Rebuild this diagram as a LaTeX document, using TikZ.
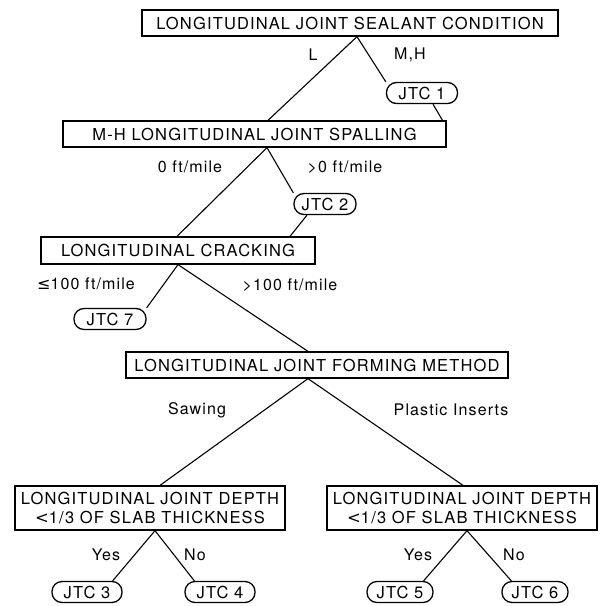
\documentclass[tikz,border=0pt]{standalone}
\usepackage{fontspec}
\setmainfont{TeX Gyre Heros}[LetterSpace=7]
\newfontfamily\symfont{DejaVu Sans}
\begin{document}
\begin{tikzpicture}[x=1pt,y=-1pt,
  box/.style={draw,line width=1.3pt,inner sep=0pt,font=\fontsize{16.5}{18.5}\selectfont,align=center},
  jtc/.style={draw,line width=1.3pt,rounded corners=10pt,minimum height=21pt,inner sep=0pt,font=\fontsize{16.5}{18}\selectfont},
  lab/.style={inner sep=0pt,font=\fontsize{16}{18}\selectfont},
  conn/.style={line width=1.1pt}]
\useasboundingbox (0,0) rectangle (604,606);
% boxes
\node[box,minimum width=416pt,minimum height=26pt] (b1) at (350,23) {LONGITUDINAL JOINT SEALANT CONDITION};
\node[box,minimum width=383pt,minimum height=26pt] (b2) at (254.5,134) {M-H LONGITUDINAL JOINT SPALLING};
\node[box,minimum width=274pt,minimum height=27pt] (b3) at (178,250.5) {LONGITUDINAL CRACKING};
\node[box,minimum width=382pt,minimum height=26pt] (b4) at (317,365) {LONGITUDINAL JOINT FORMING METHOD};
\node[box,minimum width=270pt,minimum height=44pt] (b5) at (150,508) {LONGITUDINAL JOINT DEPTH\\{\symfont<}1/3 OF SLAB THICKNESS};
\node[box,minimum width=270pt,minimum height=44pt] (b6) at (462,508) {LONGITUDINAL JOINT DEPTH\\{\symfont<}1/3 OF SLAB THICKNESS};
% terminal nodes
\node[jtc,minimum width=71pt] (j1) at (422,93) {JTC 1};
\node[jtc,minimum width=62pt] (j2) at (325,204) {JTC 2};
\node[jtc,minimum width=72pt] (j7) at (110,319) {JTC 7};
\node[jtc,minimum width=70pt] (j3) at (87,592) {JTC 3};
\node[jtc,minimum width=70pt] (j4) at (220,592) {JTC 4};
\node[jtc,minimum width=66pt] (j5) at (400,592) {JTC 5};
\node[jtc,minimum width=66pt] (j6) at (535,592) {JTC 6};
% connectors
\draw[conn] ([xshift=7pt]b1.south) -- ([xshift=13.5pt]b2.north);
\draw[conn] ([xshift=7pt]b1.south) -- (j1.north west);
\draw[conn] ([xshift=11pt]j1.south) -- ([xshift=188pt]b2.north);
\draw[conn] ([xshift=12.5pt]b2.south) -- ([xshift=-1pt]b3.north);
\draw[conn] ([xshift=12.5pt]b2.south) -- (j2.north west);
\draw[conn] ([xshift=-18pt]j2.south) -- ([xshift=112pt]b3.north);
\draw[conn] (b3.south) -- (j7.north east);
\draw[conn] (b3.south) -- ([xshift=-9pt]b4.north);
\draw[conn] ([xshift=-9pt]b4.south) -- ([xshift=10pt]b5.north);
\draw[conn] ([xshift=-9pt]b4.south) -- ([xshift=1pt]b6.north);
\draw[conn] ([xshift=5pt]b5.south) -- ([xshift=-10pt]j3.north east);
\draw[conn] ([xshift=5pt]b5.south) -- ([xshift=10pt]j4.north west);
\draw[conn] ([xshift=5pt]b6.south) -- ([xshift=-10pt]j5.north east);
\draw[conn] ([xshift=5pt]b6.south) -- ([xshift=10pt]j6.north west);
% labels
\node[lab] (l1) at (313,55) {L};
\node[lab] (l2) at (410,55) {M,H};
\node[lab] (l3) at (190,167) {0 ft/mile};
\node[lab] (l4) at (345,167) {>0 ft/mile};
\node[lab] (l5) at (86,284) {{\symfont≤}100 ft/mile};
\node[lab] (l6) at (290,285) {>100 ft/mile};
\node[lab] (l7) at (197,410) {Sawing};
\node[lab] (l8) at (451,410) {Plastic Inserts};
\node[lab] (l9) at (106,555) {Yes};
\node[lab] (l10) at (195,555) {No};
\node[lab] (l11) at (418,555) {Yes};
\node[lab] (l12) at (514,555) {No};
\end{tikzpicture}
\end{document}
